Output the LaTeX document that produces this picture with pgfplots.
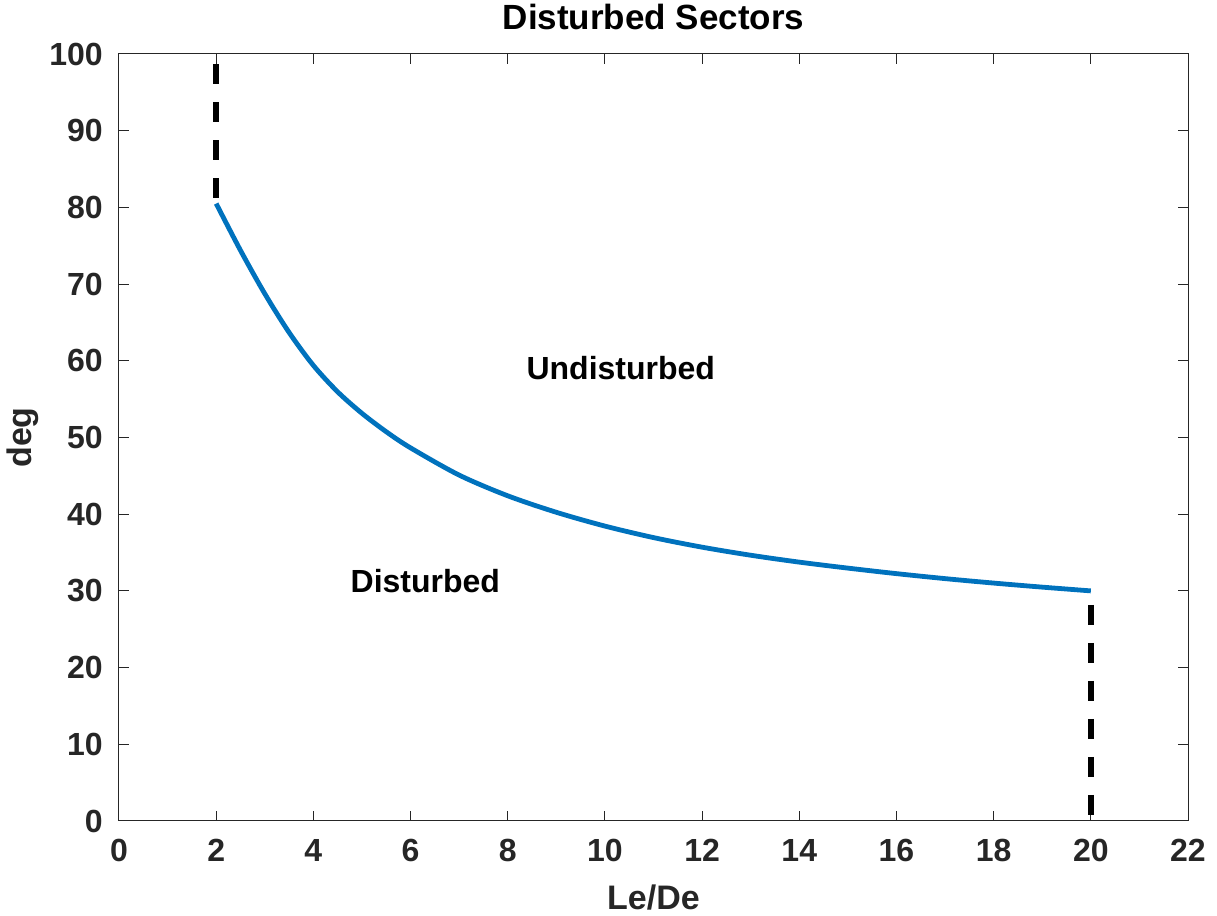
\documentclass[border=0pt]{standalone}
\usepackage{pgfplots}
\pgfplotsset{compat=1.18}
\usepackage{fontspec}
\setmainfont{Liberation Sans}
\definecolor{mblue}{rgb}{0,0.447,0.741}
\definecolor{axgray}{rgb}{0.15,0.15,0.15}
\begin{document}
\begin{tikzpicture}
\useasboundingbox (-59.5pt,-47.5pt) rectangle (549pt,410.5pt);
\begin{axis}[
  at={(0,0)}, anchor=south west,
  scale only axis,
  width=534.5pt, height=383.5pt,
  xmin=0, xmax=22, ymin=0, ymax=100,
  xtick={0,2,...,22}, ytick={0,10,...,100},
  tick align=inside,
  major tick length=5pt,
  axis line style={axgray, line width=0.5pt},
  every tick/.style={axgray, line width=0.5pt},
  /pgf/number format/assume math mode=true,
  ticklabel style={font=\bfseries\fontsize{16}{19}\selectfont, text=axgray},
  xticklabel style={yshift=-5.5pt},
  yticklabel style={xshift=-4.6pt},
  title={\bfseries Disturbed Sectors},
  title style={font=\fontsize{17.5}{20}\selectfont, at={(axis description cs:0.5,1)}, anchor=base, yshift=6pt},
  xlabel={\bfseries Le/De},
  ylabel={\bfseries deg},
  label style={font=\fontsize{17}{20}\selectfont, text=axgray},
  xlabel style={at={(axis description cs:0.5,0)}, anchor=base, yshift=-44.5pt},
  ylabel style={at={(axis description cs:-0.0898,0.5)}, anchor=center},
  clip=false,
]
\addplot[mblue, line width=2.4pt, smooth, tension=0.5] coordinates {
(2,80.5) (2.5,74.4) (3,68.75) (3.5,63.7) (4,59.4) (4.5,55.95) (5,53.15) (5.5,50.75)
(6,48.65) (7,45.1) (8,42.4) (9,40.25) (10,38.45) (11,36.95) (12,35.7) (13,34.65)
(14,33.75) (15,32.97) (16,32.25) (17,31.6) (18,31.02) (19,30.49) (20,30.0)
};
\addplot[black, line width=2.8pt, dash pattern=on 10pt off 9pt, dash phase=16pt] coordinates {(2,80.5) (2,100)};
\addplot[black, line width=2.8pt, dash pattern=on 10pt off 9pt, dash phase=12pt] coordinates {(20,30) (20,0)};
\node[anchor=west, inner sep=0pt, font=\bfseries\fontsize{16}{19}\selectfont] at (axis cs:8.38,59.06) {Undisturbed};
\node[anchor=west, inner sep=0pt, font=\bfseries\fontsize{16}{19}\selectfont] at (axis cs:4.76,31.3) {Disturbed};
\end{axis}
\end{tikzpicture}
\end{document}
